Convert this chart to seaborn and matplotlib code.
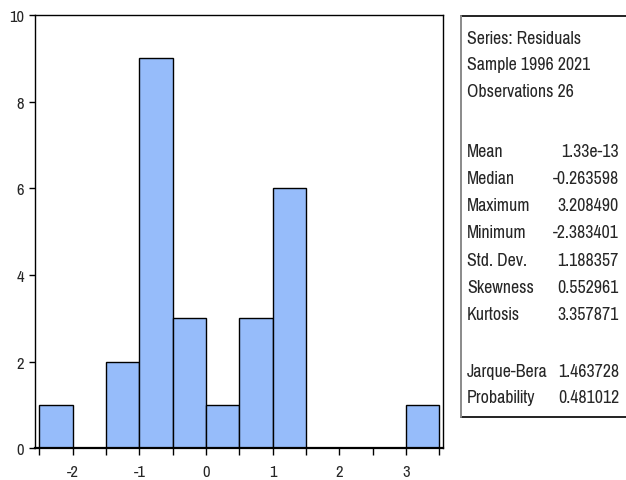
import numpy as np
import pandas as pd
import matplotlib
matplotlib.use("Agg")
import matplotlib.pyplot as plt
from matplotlib import font_manager
from matplotlib.lines import Line2D
from matplotlib.ticker import MultipleLocator
import seaborn as sns

# Residual histogram: bin centres and counts per bin (width 0.5)
bin_centers = [-2.25, -1.75, -1.25, -0.75, -0.25, 0.25, 0.75, 1.25, 1.75, 2.25, 2.75, 3.25]
bin_counts = [1, 0, 2, 9, 3, 1, 3, 6, 0, 0, 0, 1]
bin_edges = [-2.5, -2.0, -1.5, -1.0, -0.5, 0.0, 0.5, 1.0, 1.5, 2.0, 2.5, 3.0, 3.5]
x_ticks = [-2, -1, 0, 1, 2, 3]
y_ticks = [0, 2, 4, 6, 8, 10]

# Descriptive statistics panel
header_lines = ["Series: Residuals", "Sample 1996 2021", "Observations 26"]
stat_names = ["Mean", "Median", "Maximum", "Minimum", "Std. Dev.", "Skewness", "Kurtosis"]
stat_values = ["1.33e-13", "-0.263598", "3.208490", "-2.383401", "1.188357", "0.552961", "3.357871"]
test_names = ["Jarque-Bera", "Probability"]
test_values = ["1.463728", "0.481012"]

sns.set_style("ticks")

# Narrow sans faces in order of preference, regular weight
preferred = ["Liberation Sans Narrow", "Arial Narrow", "Pragati Narrow", "Roboto Condensed",
             "Archivo Narrow", "PT Sans Narrow", "Sofia Sans Condensed",
             "Encode Sans Condensed", "Liberation Sans"]
available = {f.name for f in font_manager.fontManager.ttflist}
family = next((n for n in preferred if n in available), "DejaVu Sans")
font = [family, "Liberation Sans", "DejaVu Sans"]
plt.rcParams["font.family"] = font
plt.rcParams["font.weight"] = "normal"
plt.rcParams["axes.unicode_minus"] = False

W, H = 626, 481
fig = plt.figure(figsize=(W / 100, H / 100), dpi=100)
fig.patch.set_facecolor("white")
renderer = fig.canvas.get_renderer()


def size_for_width(sample, width_px, base=12.0):
    t = fig.text(0, 0, sample, fontsize=base)
    w = t.get_window_extent(renderer).width
    t.remove()
    return base * width_px / w


fs = size_for_width("Series: Residuals", 114)
tick_fs = size_for_width("10", 15)

left, right, top, bottom = 35, 443.3, 16, 449.4
ax = fig.add_axes([left / W, 1 - bottom / H, (right - left) / W, (bottom - top) / H])

df = pd.DataFrame({"resid": bin_centers, "count": bin_counts})
sns.histplot(data=df, x="resid", weights="count", bins=bin_edges, ax=ax,
             color="#96BCFA", alpha=1.0, edgecolor="black", linewidth=1.0)

ax.set_xlim(-2.565, 3.56)
ax.set_ylim(0, 10)
ax.set_xticks(x_ticks)
ax.xaxis.set_minor_locator(MultipleLocator(0.5))
ax.set_yticks(y_ticks)
ax.set_xlabel("")
ax.set_ylabel("")
ax.set_facecolor("white")
for side in ["left", "right", "top", "bottom"]:
    ax.spines[side].set_visible(True)
    ax.spines[side].set_color("black")
    ax.spines[side].set_linewidth(1.0)
ax.spines["bottom"].set_linewidth(1.6)
ax.tick_params(axis="x", which="both", direction="out", length=5, width=1,
               color="black", labelsize=tick_fs, pad=6)
ax.tick_params(axis="y", which="both", direction="out", length=4, width=1,
               color="black", labelsize=tick_fs, pad=4)

# Statistics box: dark top and bottom rules, grey left rule
bx0, by0, by1 = 460.5 / W, 1 - 17 / H, 1 - 418 / H
fig.add_artist(Line2D([bx0, 1.0], [by0, by0], transform=fig.transFigure,
                      color="#222222", lw=1.4))
fig.add_artist(Line2D([bx0, 1.0], [by1, by1], transform=fig.transFigure,
                      color="#222222", lw=1.4))
fig.add_artist(Line2D([bx0, bx0], [by1, by0], transform=fig.transFigure,
                      color="#8a8a8a", lw=1.4))

x_lab, x_val = 467 / W, 619 / W
header_y = [39, 65, 92]
stat_y = [152, 179, 206, 233, 261, 288, 315]
test_y = [372, 398]
for yy, line in zip(header_y, header_lines):
    fig.text(x_lab, 1 - yy / H, line, ha="left", va="center", fontsize=fs)
for yy, n, v in zip(stat_y, stat_names, stat_values):
    fig.text(x_lab, 1 - yy / H, n, ha="left", va="center", fontsize=fs)
    fig.text(x_val, 1 - yy / H, v, ha="right", va="center", fontsize=fs)
for yy, n, v in zip(test_y, test_names, test_values):
    fig.text(x_lab, 1 - yy / H, n, ha="left", va="center", fontsize=fs)
    fig.text(x_val, 1 - yy / H, v, ha="right", va="center", fontsize=fs)

fig.savefig("out.png", dpi=100, facecolor="white")
